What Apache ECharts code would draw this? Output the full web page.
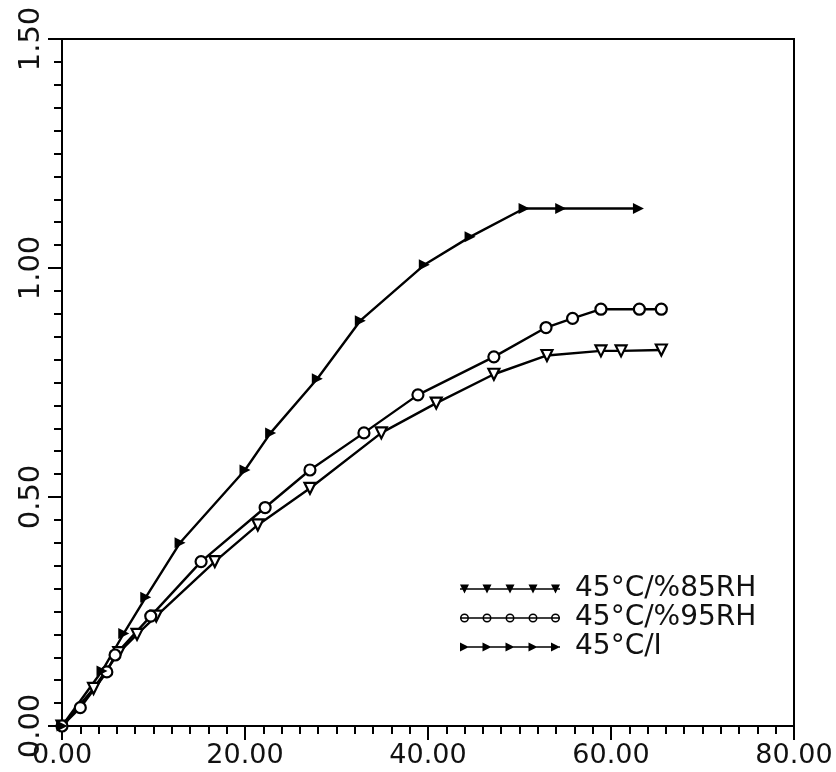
<!DOCTYPE html>
<html lang="en">
<head>
    <meta charset="UTF-8">
    <title>45C curves</title>
    <script src="https://cdn.jsdelivr.net/npm/echarts@6/dist/echarts.min.js"></script>
</head>
<body style="margin:0;background:#fff">
<div id="main" style="width:836px;height:772px;"></div>
<script>
    // x / y, one pair of arrays per curve
    const names = ['45°C/%85RH', '45°C/%95RH', '45°C/I'];

    const x85 = [0, 3.45, 6.2, 8.2, 10.3, 16.7, 21.4, 27.1, 34.9, 40.9, 47.2, 53.0, 58.9, 61.1, 65.5];
    const y85 = [0, 0.082, 0.16, 0.20, 0.24, 0.359, 0.439, 0.519, 0.640, 0.705, 0.768, 0.809, 0.819, 0.819, 0.821];

    const x95 = [0, 2.0, 4.9, 5.8, 9.7, 15.2, 22.2, 27.1, 33.0, 38.9, 47.2, 52.9, 55.8, 58.9, 63.1, 65.5];
    const y95 = [0, 0.040, 0.118, 0.155, 0.24, 0.359, 0.477, 0.559, 0.640, 0.723, 0.806, 0.870, 0.890, 0.910, 0.910, 0.910];

    const xI = [0, 4.37, 6.75, 9.15, 12.9, 20.0, 22.8, 27.9, 32.6, 39.6, 44.6, 50.5, 54.5, 63.0];
    const yI = [0, 0.120, 0.202, 0.281, 0.400, 0.559, 0.640, 0.758, 0.885, 1.007, 1.068, 1.130, 1.130, 1.130];

    const xTicks = [0, 20, 40, 60, 80];
    const yTicks = [0, 0.5, 1.0, 1.5];

    function pairs(xs, ys) {
        return xs.map((v, i) => [v, ys[i]]);
    }

    // legend samples: a line with five markers on it
    function legendPath(kind) {
        let p = 'M0 4.2L100 4.2L100 5.8L0 5.8Z';
        [4.5, 27, 50, 73, 95.5].forEach(c => {
            if (kind === 'down') {
                p += ` M${c - 4.5} 0.5L${c + 4.5} 0.5L${c} 9.5Z`;
            } else if (kind === 'right') {
                p += ` M${c - 4.5} 0.5L${c + 4.5} 5L${c - 4.5} 9.5Z`;
            } else {
                p += ` M${c - 4.5} 5A4.5 4.5 0 1 1 ${c + 4.5} 5A4.5 4.5 0 1 1 ${c - 4.5} 5Z`;
                p += ` M${c - 3} 5A3 3 0 1 0 ${c + 3} 5A3 3 0 1 0 ${c - 3} 5Z`;
            }
        });
        return 'path://' + p;
    }

    const font = 'DejaVu Sans';
    let myChart = echarts.init(document.getElementById('main'));

    let option = {
        animation: false,
        backgroundColor: '#fff',
        grid: {
            left: 62, right: 42, top: 39, bottom: 46,
            show: true, borderColor: '#000', borderWidth: 2
        },
        legend: {
            orient: 'vertical',
            left: 455, top: 570,
            itemWidth: 100, itemHeight: 11,
            itemGap: 1,
            itemStyle: {color: '#000', borderWidth: 0},
            textStyle: {fontFamily: font, fontSize: 28, color: '#111', lineHeight: 26, padding: [0, 0, 0, 10]},
            data: [
                {name: names[0], icon: legendPath('down')},
                {name: names[1], icon: legendPath('circle')},
                {name: names[2], icon: legendPath('right')}
            ]
        },
        xAxis: {
            type: 'value',
            min: xTicks[0], max: xTicks[xTicks.length - 1], interval: 20,
            axisLine: {lineStyle: {color: '#000', width: 2}},
            axisTick: {length: 14, lineStyle: {color: '#000', width: 2}},
            minorTick: {show: true, splitNumber: 10, length: 8, lineStyle: {color: '#000', width: 2}},
            splitLine: {show: false},
            axisLabel: {
                fontFamily: font, fontSize: 27, color: '#111', margin: 16,
                formatter: v => v.toFixed(2)
            }
        },
        yAxis: {
            type: 'value',
            min: yTicks[0], max: yTicks[yTicks.length - 1], interval: 0.5,
            axisLine: {lineStyle: {color: '#000', width: 2}},
            axisTick: {length: 14, lineStyle: {color: '#000', width: 2}},
            minorTick: {show: true, splitNumber: 10, length: 8, lineStyle: {color: '#000', width: 2}},
            splitLine: {show: false},
            axisLabel: {
                fontFamily: font, fontSize: 29, color: '#111', margin: 16, rotate: 90,
                formatter: v => v.toFixed(2)
            }
        },
        series: [
            {
                name: names[0], type: 'line',
                data: pairs(x85, y85),
                symbol: 'path://M0 0L10 0L5 10Z', symbolSize: 11,
                itemStyle: {color: '#fff', borderColor: '#000', borderWidth: 2.2},
                lineStyle: {color: '#000', width: 2.4}
            },
            {
                name: names[1], type: 'line',
                data: pairs(x95, y95),
                symbol: 'circle', symbolSize: 11,
                itemStyle: {color: '#fff', borderColor: '#000', borderWidth: 2.2},
                lineStyle: {color: '#000', width: 2.4}
            },
            {
                name: names[2], type: 'line',
                data: pairs(xI, yI),
                symbol: 'path://M0 0L10 5L0 10Z', symbolSize: 11,
                itemStyle: {color: '#000'},
                lineStyle: {color: '#000', width: 2.4}
            }
        ]
    };

    myChart.setOption(option);
</script>
</body>
</html>
